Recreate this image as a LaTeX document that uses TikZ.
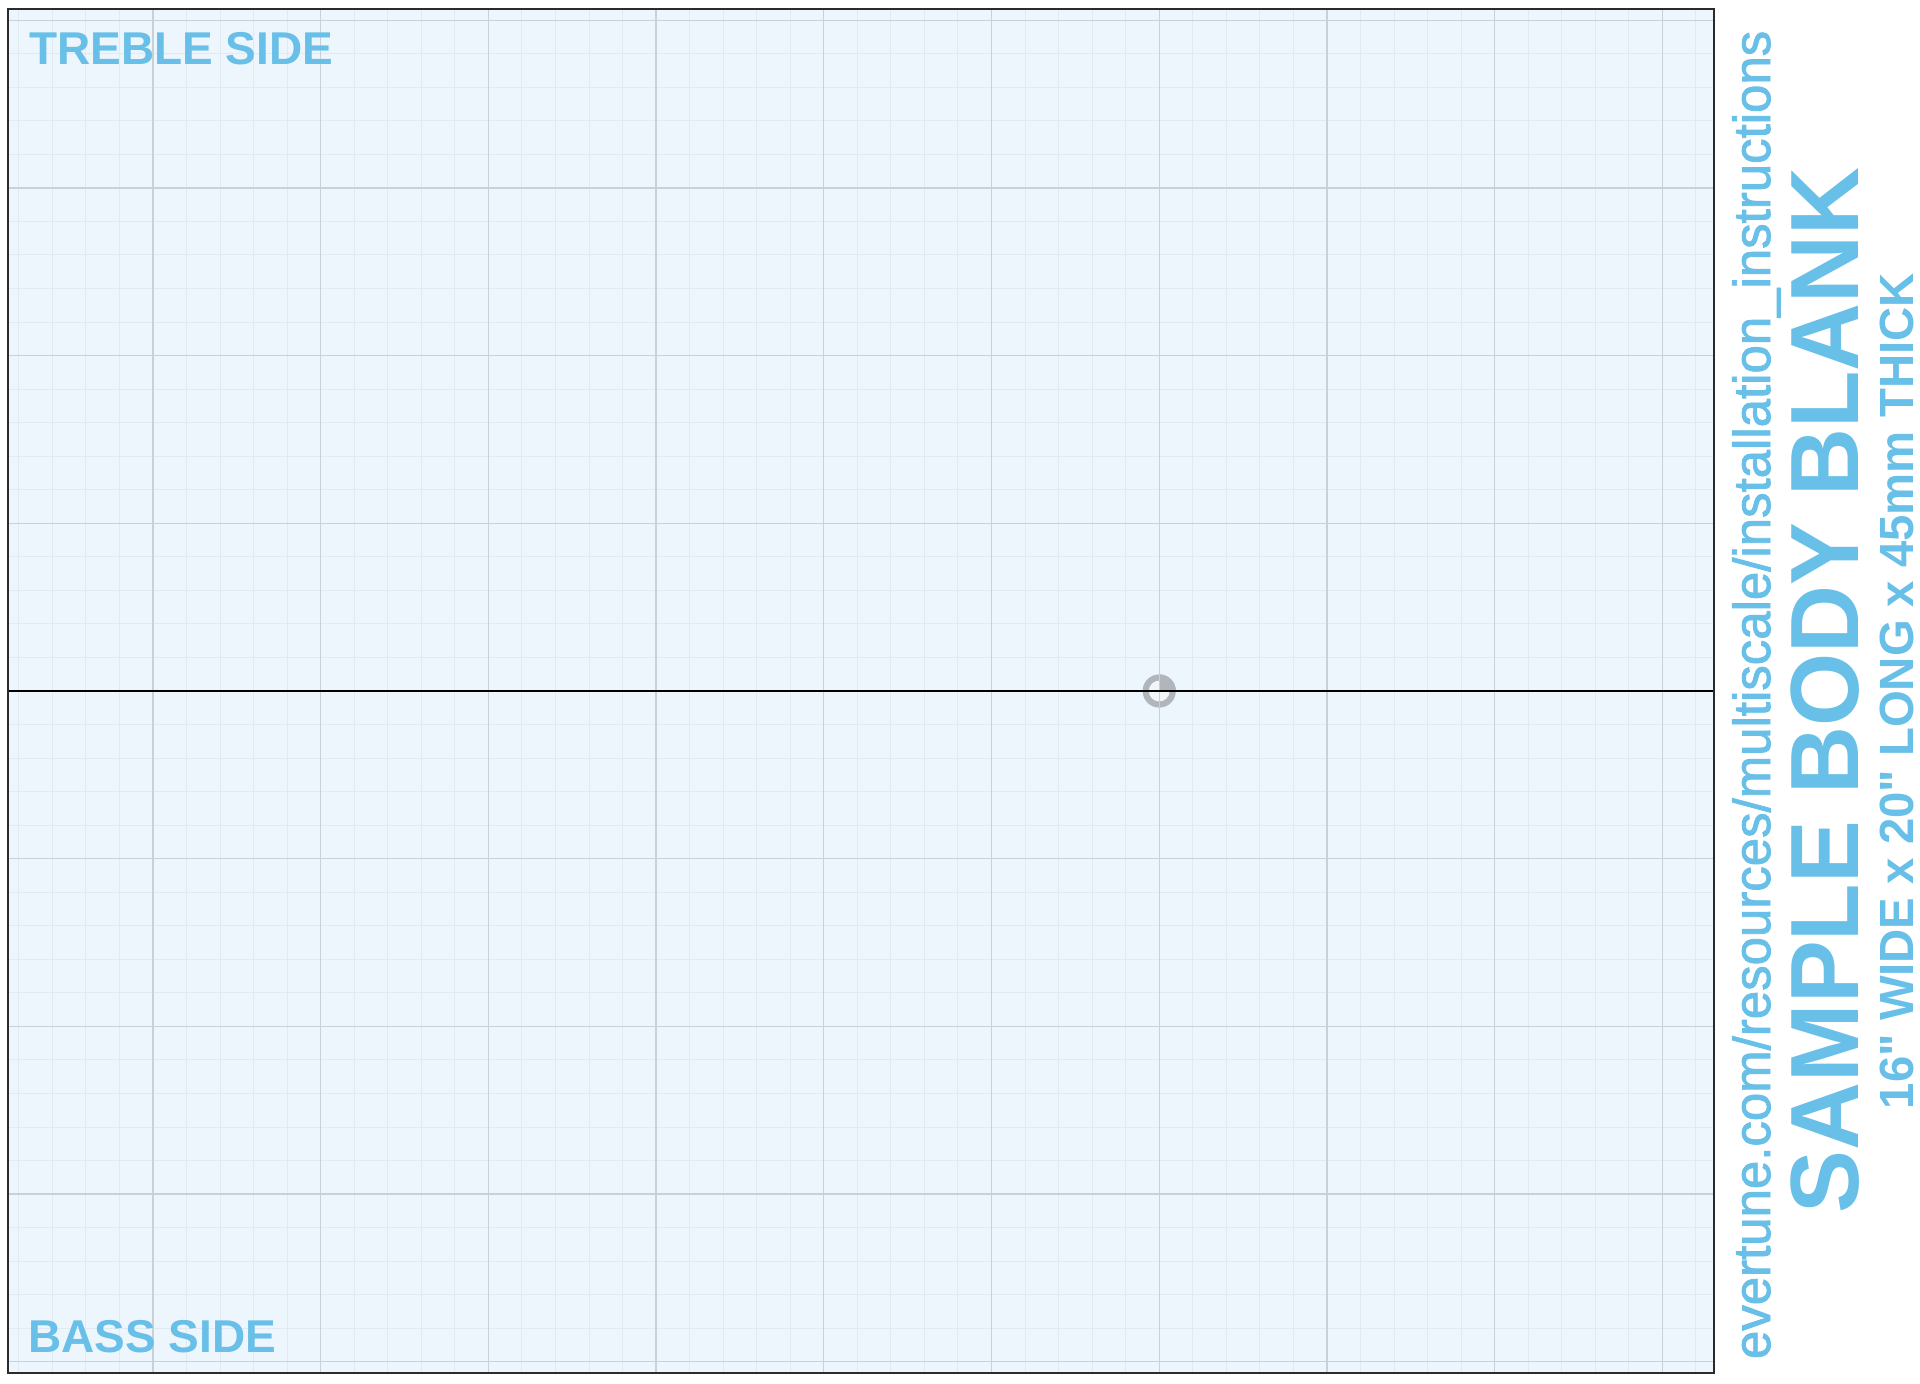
\documentclass[tikz,border=0pt]{standalone}
\usepackage{fontspec}
\usepackage{graphicx}
\setmainfont{Liberation Sans}
\newfontfamily\hb{Liberation Sans Bold}
\newfontfamily\hm[FakeBold=1.6]{Liberation Sans}
\definecolor{bgblue}{HTML}{EEF6FD}
\definecolor{minorc}{HTML}{E2EAF1}
\definecolor{majorc}{HTML}{C9D1D8}
\definecolor{pinkc}{HTML}{EBC3C7}
\definecolor{txtblue}{HTML}{68BFE7}
\definecolor{framec}{HTML}{2B2B2B}
\definecolor{ringc}{HTML}{B0B6BB}
\definecolor{ringin}{HTML}{F3F6F8}
\tikzset{
  minorline/.style={draw=minorc, line width=0.5pt},
  majorline/.style={draw=majorc, line width=0.65pt},
  lbl/.style={inner sep=0pt, outer sep=0pt, text=txtblue},
}
\begin{document}
\begin{tikzpicture}[x=0.5pt,y=-0.5pt]
\useasboundingbox (0,0) rectangle (1920,1383);
\fill[white] (0,0) rectangle (1920,1383);
% panel
\fill[bgblue] (8,9) rectangle (1714,1373);
% minor grid
\foreach \k in {-4,...,46} {
  \pgfmathsetmacro\xx{153+33.54*\k}
  \draw[minorline] (\xx,9) -- (\xx,1373);
}
\foreach \k in {-20,...,20} {
  \pgfmathsetmacro\yy{691+33.54*\k}
  \draw[minorline] (8,\yy) -- (1714,\yy);
}
% major grid
\foreach \k in {0,...,9} {
  \pgfmathsetmacro\xx{153+167.7*\k}
  \draw[majorline] (\xx,9) -- (\xx,1373);
}
\foreach \k in {-4,...,4} {
  \pgfmathsetmacro\yy{691+167.7*\k}
  \draw[majorline] (8,\yy) -- (1714,\yy);
}
% centre mark
\coordinate (c) at (1159.2,691);
\fill[ringc] (c) circle[radius=16.6];
\fill[ringin] (c) circle[radius=10.4];
\begin{scope}
  \clip (c) circle[radius=16.6];
  \fill[ringc] (1159.2,672) rectangle (1178,691);
\end{scope}
% pink centre line
\coordinate (pt) at (1159.2,9);
\coordinate (pb) at (1159.2,1373);
\draw[pinkc, line width=0.6pt] (pt) -- (pb);
% frame and centre line
\coordinate (hl) at (8,691);
\coordinate (hr) at (1714,691);
\draw[black, line width=1pt] (hl) -- (hr);
\draw[framec, line width=1.4pt] (8,9) rectangle (1714,1373);
% labels
\node[lbl, anchor=base west, font=\hb\fontsize{23}{23}\selectfont] (treble) at (29,64) {TREBLE SIDE};
\node[lbl, anchor=base west, font=\hb\fontsize{23}{23}\selectfont] (bass) at (28,1352) {BASS SIDE};
\node[lbl, anchor=base west, rotate=90, font=\hm\fontsize{26}{26}\selectfont] (url) at (1770,1359) {\scalebox{0.98}[1]{evertune.com/resources/multiscale/installation\_instructions}};
\node[lbl, anchor=base west, rotate=90, font=\hb\fontsize{48.5}{48.5}\selectfont] (title) at (1858,1213) {\scalebox{0.97}[1]{SAMPLE BODY BLANK}};
\node[lbl, anchor=base west, rotate=90, font=\hb\fontsize{24}{24}\selectfont] (dims) at (1913,1109) {\scalebox{0.985}[1]{16" WIDE x 20" LONG x 45mm THICK}};
\end{tikzpicture}
\end{document}
